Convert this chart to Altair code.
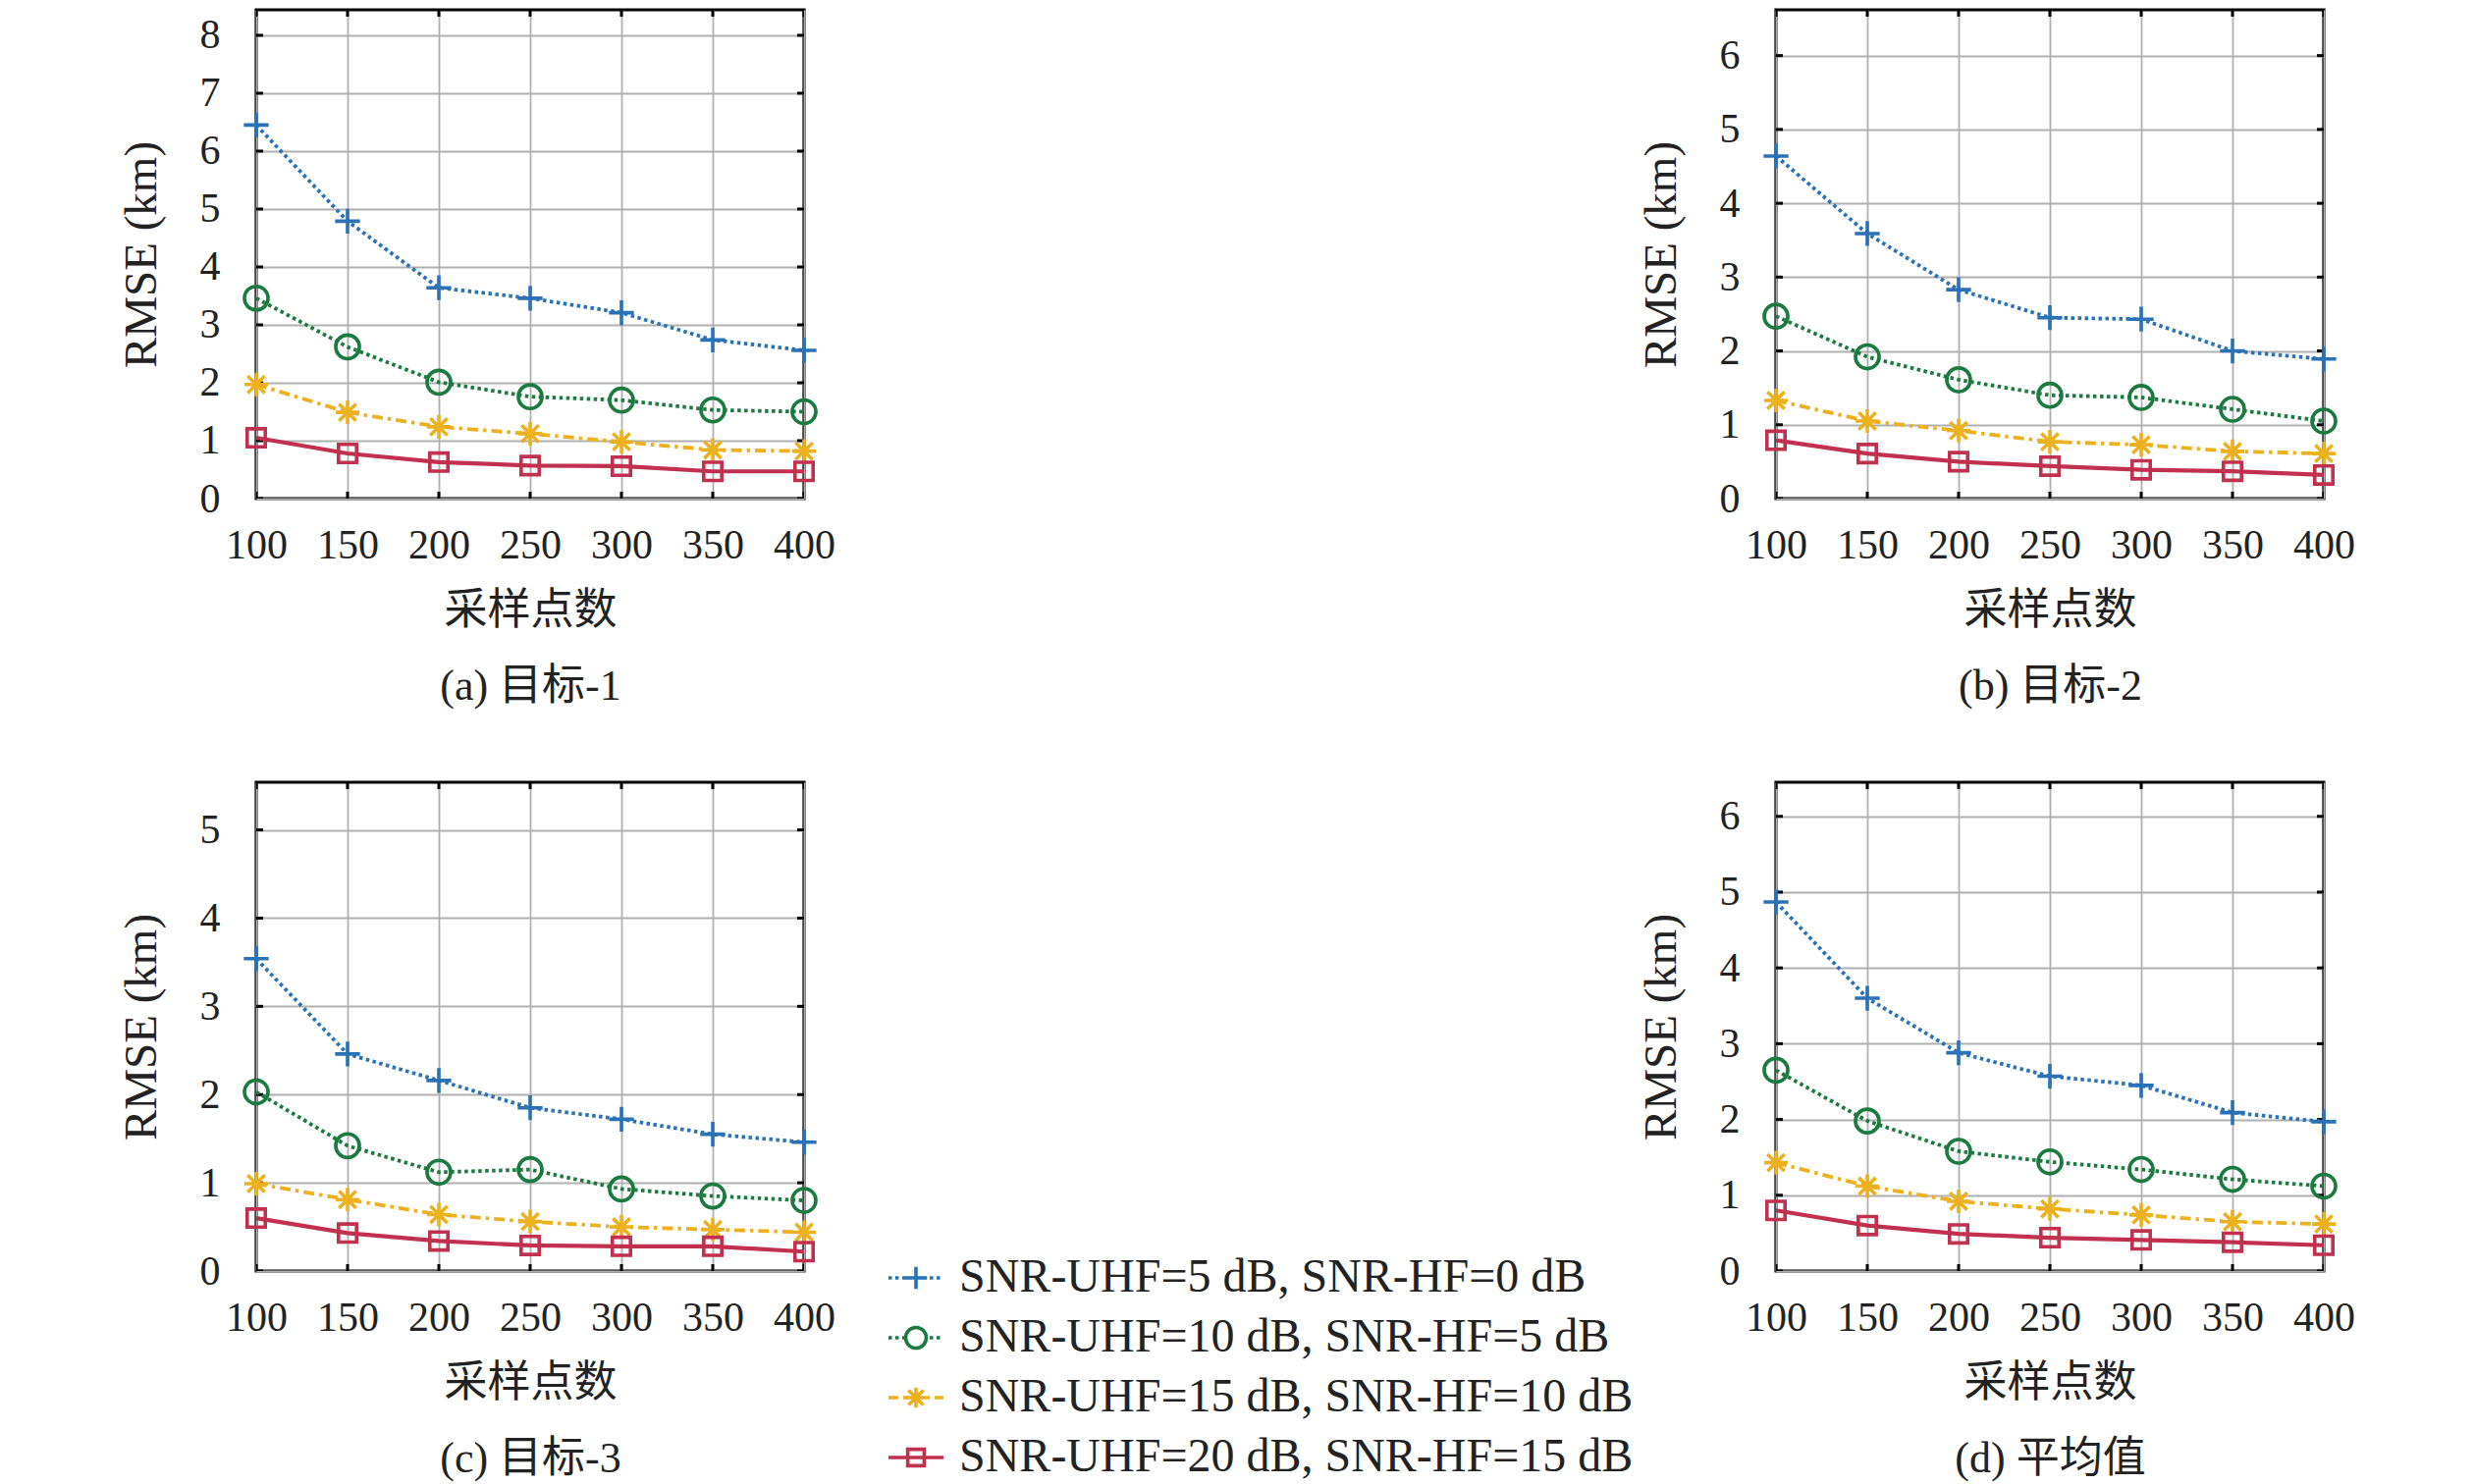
import altair as alt
import pandas as pd

# ---------------- data ----------------
X = [100, 150, 200, 250, 300, 350, 400]
SERIES = [
    "SNR-UHF=5 dB, SNR-HF=0 dB",
    "SNR-UHF=10 dB, SNR-HF=5 dB",
    "SNR-UHF=15 dB, SNR-HF=10 dB",
    "SNR-UHF=20 dB, SNR-HF=15 dB",
]
COLORS = ["#2a72b8", "#1a7a40", "#edb120", "#c2304f"]

A1 = [6.45, 4.79, 3.64, 3.46, 3.21, 2.74, 2.56]
A2 = [3.46, 2.62, 2.01, 1.76, 1.70, 1.53, 1.50]
A3 = [1.97, 1.49, 1.24, 1.12, 0.98, 0.84, 0.82]
A4 = [1.05, 0.78, 0.63, 0.57, 0.56, 0.47, 0.47]

B1 = [4.64, 3.59, 2.83, 2.45, 2.43, 2.00, 1.89]
B2 = [2.47, 1.92, 1.61, 1.40, 1.37, 1.21, 1.05]
B3 = [1.33, 1.05, 0.92, 0.77, 0.73, 0.64, 0.61]
B4 = [0.79, 0.61, 0.50, 0.44, 0.39, 0.37, 0.32]

C1 = [3.54, 2.46, 2.16, 1.85, 1.72, 1.55, 1.46]
C2 = [2.03, 1.42, 1.12, 1.15, 0.93, 0.85, 0.80]
C3 = [0.99, 0.81, 0.64, 0.56, 0.50, 0.47, 0.44]
C4 = [0.60, 0.43, 0.34, 0.29, 0.28, 0.28, 0.22]

D1 = [4.87, 3.60, 2.88, 2.57, 2.45, 2.09, 1.97]
D2 = [2.65, 1.98, 1.58, 1.44, 1.34, 1.21, 1.12]
D3 = [1.43, 1.12, 0.92, 0.82, 0.74, 0.65, 0.62]
D4 = [0.80, 0.60, 0.49, 0.44, 0.41, 0.38, 0.34]

PANELS = [[A1, A2, A3, A4], [B1, B2, B3, B4], [C1, C2, C3, C4], [D1, D2, D3, D4]]
Y_MAX = [8.44, 6.62, 5.54, 6.45]
Y_TICKS = [list(range(0, 9)), list(range(0, 7)), list(range(0, 6)), list(range(0, 7))]
CAPTIONS = ["(a) 目标-1", "(b) 目标-2", "(c) 目标-3", "(d) 平均值"]
X_TITLE = "采样点数"
Y_TITLE = "RMSE (km)"

# ---------------- style ----------------
FONT = "Liberation Serif, Noto Sans CJK SC, serif"
TXT = "#222222"
W, H = 558, 498

PLUS = "M-1,0H1M0,-1V1"
STAR = "M-1,0H1M0,-1V1M-0.72,-0.72L0.72,0.72M-0.72,0.72L0.72,-0.72"
MARKERS = [PLUS, "circle", STAR, "square"]
MSIZES = [640, 580, 580, 340]
DASHES = [[3.5, 3.5], [3.5, 3.5], [11, 5, 3.5, 5], None]
LWIDTHS = [3.8, 3.8, 3.8, 4.2]
MSTROKE = 3.6

# legend symbol paths (unit = 28 px, span [-1, 1] = 56 px)
U = 28.0


def pattern_path(pattern, skip):
    parts = []
    if pattern is None:
        segs = [(-U, U)]
    else:
        segs = []
        pos = -U
        i = 0
        while pos < U:
            L = pattern[i % len(pattern)]
            if i % 2 == 0:
                segs.append((pos, min(pos + L, U)))
            pos += L
            i += 1
    for a, b in segs:
        pieces = []
        if skip > 0:
            if b <= -skip or a >= skip:
                pieces.append((a, b))
            else:
                if a < -skip:
                    pieces.append((a, -skip))
                if b > skip:
                    pieces.append((skip, b))
        else:
            pieces.append((a, b))
        for p, q in pieces:
            if q - p > 0.5:
                parts.append(f"M{p / U:.3f},0H{q / U:.3f}")
    return "".join(parts)


r_c = 10.5 / U
LEG_PATHS = [
    pattern_path([3.5, 3.5], 11) + "M-0.4,0H0.4M0,-0.4V0.4",
    pattern_path([3.5, 3.5], 11) + f"M{r_c:.3f},0A{r_c:.3f},{r_c:.3f} 0 1,1 {-r_c:.3f},0A{r_c:.3f},{r_c:.3f} 0 1,1 {r_c:.3f},0",
    pattern_path([10, 5, 3.5, 5], 10) + "M-0.37,0H0.37M0,-0.37V0.37M-0.27,-0.27L0.27,0.27M-0.27,0.27L0.27,-0.27",
    pattern_path(None, 0) + "M-0.3,-0.3H0.3V0.3H-0.3Z",
]


def make_panel(idx):
    rows = []
    for k, vals in enumerate(PANELS[idx]):
        for xv, yv in zip(X, vals):
            rows.append({"x": xv, "rmse": yv, "series": SERIES[k]})
    df = pd.DataFrame(rows)
    base = alt.Chart(df)

    xaxis = alt.Axis(
        values=X,
        title=[X_TITLE, CAPTIONS[idx]],
        titleY=114,
        titleBaseline="middle",
        titleLineHeight=77,
        titleFontSize=44,
        labelPadding=47,
        labelBaseline="middle",
        labelFlush=False,
        labelOverlap=False,
    )
    yaxis = alt.Axis(
        values=Y_TICKS[idx],
        title=Y_TITLE,
        titleX=-117,
        titleY=H / 2,
        titleAngle=270,
        titleAlign="center",
        titleBaseline="middle",
        titleFontSize=47,
        labelPadding=37,
        labelFlush=False,
        labelOverlap=False,
    )
    xscale = alt.Scale(domain=[100, 400], nice=False, zero=False)
    yscale = alt.Scale(domain=[0, Y_MAX[idx]], nice=False, zero=True)
    xenc = alt.X("x:Q", scale=xscale, axis=xaxis)
    yenc = alt.Y("rmse:Q", scale=yscale, axis=yaxis)

    layers = []
    # inward frame ticks (MATLAB style), driven by the tick values through the scales
    xt = alt.Chart(pd.DataFrame({"x": X}))
    yt = alt.Chart(pd.DataFrame({"rmse": Y_TICKS[idx]}))
    for yv in (0, H):
        layers.append(
            xt.mark_tick(orient="vertical", size=14, thickness=3, color="black", clip=True, opacity=1)
            .encode(x=xenc, y=alt.value(yv))
        )
    for xv in (0, W):
        layers.append(
            yt.mark_tick(orient="horizontal", size=14, thickness=3, color="black", clip=True, opacity=1)
            .encode(y=yenc, x=alt.value(xv))
        )

    for k in range(4):
        sub = base.transform_filter(alt.datum.series == SERIES[k])
        lkw = dict(color=COLORS[k], strokeWidth=LWIDTHS[k])
        if DASHES[k] is not None:
            lkw["strokeDash"] = DASHES[k]
        layers.append(sub.mark_line(**lkw).encode(x=xenc, y=yenc))
        layers.append(
            sub.mark_point(
                shape=MARKERS[k],
                filled=False,
                color=COLORS[k],
                size=MSIZES[k],
                strokeWidth=MSTROKE,
                opacity=1,
            ).encode(x=xenc, y=yenc)
        )

    if idx == 2:
        leg = alt.Legend(
            title=None,
            orient="none",
            legendX=642,
            legendY=475,
            labelFont=FONT,
            labelFontSize=48,
            labelColor=TXT,
            labelOffset=14,
            labelLimit=0,
            rowPadding=7,
            symbolSize=3136,
            symbolStrokeWidth=3.6,
            padding=0,
        )
        legend_layer = (
            base.transform_filter("false")
            .mark_point(filled=False, opacity=1, strokeWidth=3.6, size=3136)
            .encode(
                shape=alt.Shape("series:N", scale=alt.Scale(domain=SERIES, range=LEG_PATHS), legend=leg),
                color=alt.Color("series:N", scale=alt.Scale(domain=SERIES, range=COLORS), legend=leg),
            )
        )
        layers.append(legend_layer)

    return alt.layer(*layers).properties(width=W, height=H)


panels = [make_panel(i) for i in range(4)]

chart = (
    alt.concat(
        *panels,
        columns=2,
        spacing=alt.RowColnumber(row=289, column=990),
        bounds="flush",
    )
    .resolve_scale(color="independent", shape="independent")
    .resolve_legend(color="independent", shape="independent")
    .properties(padding={"left": 110, "top": 0, "right": 5, "bottom": 0})
    .configure(font=FONT)
    .configure_view(stroke="black", strokeWidth=3.2)
    .configure_axis(
        labelFont=FONT,
        titleFont=FONT,
        labelFontSize=42,
        labelColor=TXT,
        titleColor=TXT,
        titleFontWeight="normal",
        domain=False,
        ticks=True,
        tickSize=0,
        grid=True,
        gridColor="#b0b0b0",
        gridWidth=1.8,
        gridOpacity=1,
    )
)

chart.save("out.html", embed_options={"renderer": "svg", "actions": False})
